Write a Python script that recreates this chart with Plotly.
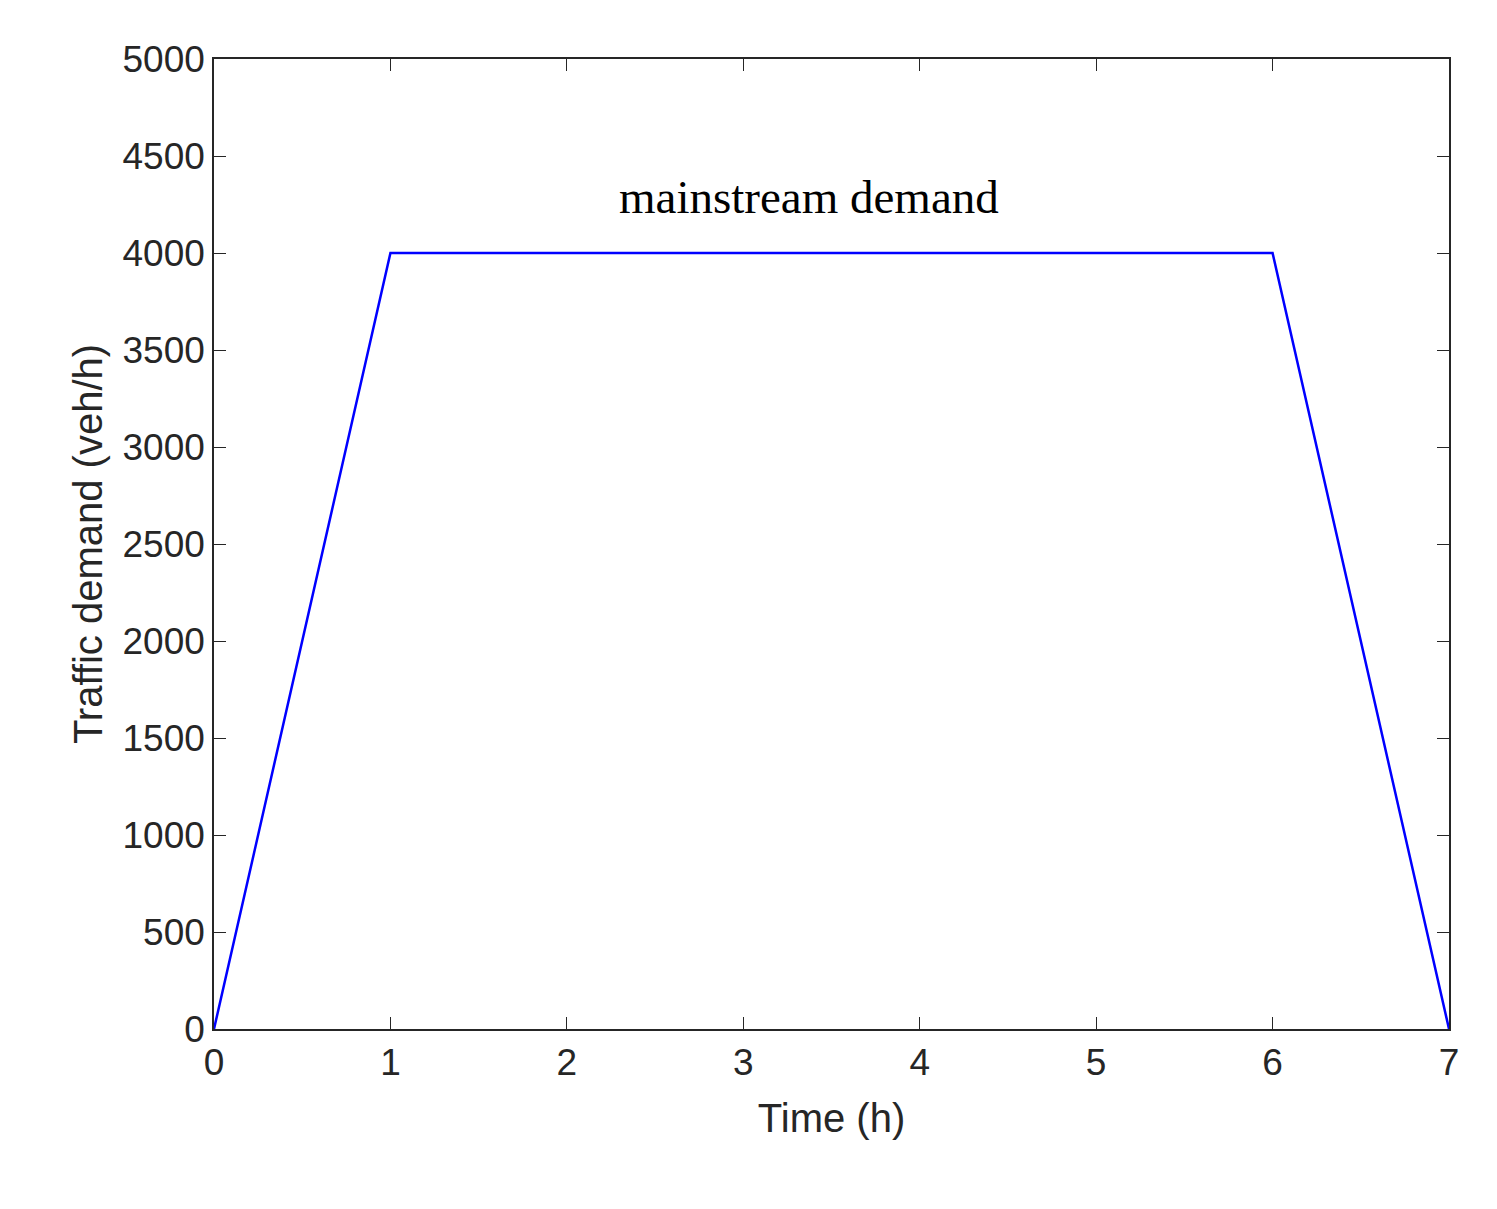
import plotly.graph_objects as go

time_h = [0, 1, 6, 7]
demand = [0, 4000, 4000, 0]
x_ticks = [0, 1, 2, 3, 4, 5, 6, 7]
y_ticks = [0, 500, 1000, 1500, 2000, 2500, 3000, 3500, 4000, 4500, 5000]

fig = go.Figure(go.Scatter(x=time_h, y=demand, mode="lines",
                           line=dict(color="#0000ff", width=2.5)))
ax = dict(showgrid=False, zeroline=False, showline=True, linecolor="#262626", linewidth=1.5,
          mirror="ticks", ticks="inside", ticklen=12, tickcolor="#262626",
          tickfont=dict(family="Liberation Sans, Arial", size=37, color="#262626"))
fig.update_xaxes(**ax, range=[0, 7], tickvals=x_ticks,
                 title=dict(text="Time (h)", font=dict(family="Liberation Sans, Arial", size=40, color="#262626"), standoff=22))
fig.update_yaxes(**ax, range=[0, 5000], tickvals=y_ticks,
                 title=dict(text="Traffic demand (veh/h)", font=dict(family="Liberation Sans, Arial", size=40, color="#262626"), standoff=8))
fig.add_annotation(x=3.37, y=4290, text="mainstream demand", showarrow=False,
                   font=dict(family="Liberation Serif, Times New Roman", size=47, color="black"))
fig.update_layout(width=1497, height=1209, margin=dict(l=206, r=56, t=51, b=188),
                  plot_bgcolor="white", paper_bgcolor="white", showlegend=False)
fig.write_html("out.html")
